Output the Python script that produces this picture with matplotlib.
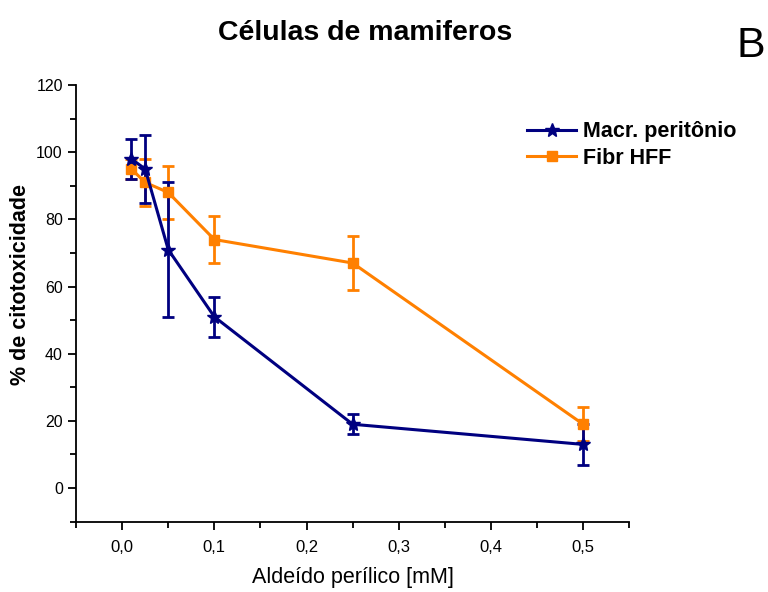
import matplotlib
matplotlib.use("Agg")
import matplotlib.pyplot as plt
from matplotlib.lines import Line2D
from matplotlib.ticker import MultipleLocator, FuncFormatter

plt.rcParams['font.family'] = ['Liberation Sans', 'DejaVu Sans']

# concentrations (mM)
conc = [0.01, 0.025, 0.05, 0.1, 0.25, 0.5]

# Macr. peritônio
macr = [98, 95, 71, 51, 19, 13]
macr_err = [6, 10, 20, 6, 3, 6]

# Fibr HFF
fibr = [95, 91, 88, 74, 67, 19]
fibr_err = [3, 7, 8, 7, 8, 5]

navy = '#000080'
orange = '#FF8000'

fig = plt.figure(figsize=(7.68, 5.92), dpi=100)
ax = fig.add_axes([0.099, 0.1188, 0.7204, 0.7376])

ax.errorbar(conc, fibr, yerr=fibr_err, color=orange, marker='s', markersize=7,
            linewidth=2.2, elinewidth=2, capsize=4, capthick=2)
ax.errorbar(conc, macr, yerr=macr_err, color=navy, marker='*', markersize=10,
            linewidth=2.2, elinewidth=2, capsize=4, capthick=2)

ax.set_xlim(-0.05, 0.55)
ax.set_ylim(-10, 120)
ax.xaxis.set_major_locator(MultipleLocator(0.1))
ax.xaxis.set_minor_locator(MultipleLocator(0.05))
ax.yaxis.set_major_locator(MultipleLocator(20))
ax.yaxis.set_minor_locator(MultipleLocator(10))
ax.xaxis.set_major_formatter(FuncFormatter(lambda v, p: f'{v:.1f}'.replace('.', ',').replace('-0,0', '0,0')))

ax.spines['top'].set_visible(False)
ax.spines['right'].set_visible(False)
ax.spines['left'].set_linewidth(1.3)
ax.spines['bottom'].set_linewidth(1.3)
ax.tick_params(which='both', direction='out', width=1.3)
ax.tick_params(which='major', length=6)
ax.tick_params(which='minor', length=4)
ax.tick_params(axis='x', labelsize=12, pad=7)
ax.tick_params(axis='y', labelsize=11.5, pad=3.5)

fig.text(0.46, 0.024, 'Aldeído perílico [mM]', fontsize=15.5, ha='center', va='center')
fig.text(0.027, 0.519, '% de citotoxicidade', fontsize=15.5, fontweight='bold',
         rotation=90, ha='center', va='center')

handles = [Line2D([], [], color=navy, marker='*', markersize=10, linewidth=2.2),
           Line2D([], [], color=orange, marker='s', markersize=7, linewidth=2.2)]
fig.legend(handles, ['Macr. peritônio', 'Fibr HFF'], loc='upper left',
           bbox_to_anchor=(0.686, 0.795), frameon=False,
           prop={'weight': 'bold', 'size': 15.5}, handlelength=2.3,
           handletextpad=0.33, labelspacing=0.25, borderpad=0, borderaxespad=0)

fig.text(0.475, 0.945, 'Células de mamiferos', fontsize=20.5, fontweight='bold', ha='center', va='center')
fig.text(0.977, 0.922, 'B', fontsize=31, ha='center', va='center')

fig.savefig('out.png', dpi=100)
